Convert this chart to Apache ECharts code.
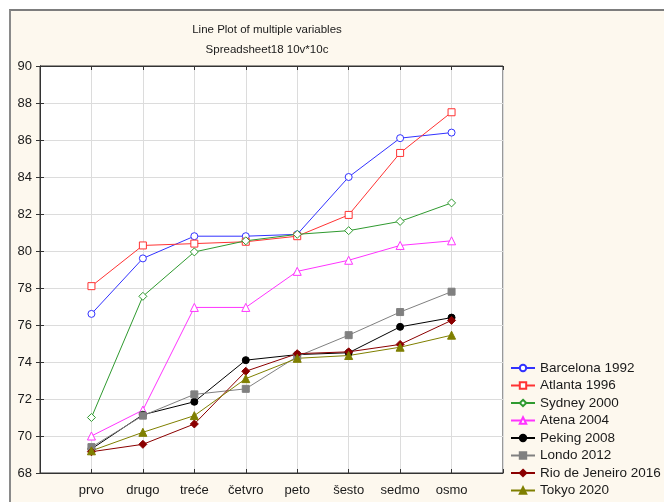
<!DOCTYPE html>
<html>
<head>
<meta charset="utf-8">
<script src="https://cdn.jsdelivr.net/npm/echarts@6/dist/echarts.min.js"></script>
<style>
  html, body { margin: 0; padding: 0; background: #ffffff; }
  #wrap { position: relative; width: 664px; height: 502px; overflow: hidden; background: #ffffff; }
  #frame { position: absolute; left: 9px; top: 9px; width: 664px; height: 502px;
           border-top: 2px solid #7d7d7d; border-left: 2px solid #8a8a8a; background: #fdf8ee; }
  #chart { position: absolute; left: 0; top: 0; width: 664px; height: 502px; }
</style>
</head>
<body>
<div id="wrap"><div id="frame"></div><div id="chart"></div></div>
<script>
const categories = ['prvo', 'drugo', 'treće', 'četvro', 'peto', 'šesto', 'sedmo', 'osmo'];
const yTicks = [68, 70, 72, 74, 76, 78, 80, 82, 84, 86, 88, 90];

const barcelona1992 = [76.6, 79.6, 80.8, 80.8, 80.9, 84.0, 86.1, 86.4];
const atlanta1996   = [78.1, 80.3, 80.4, 80.5, 80.8, 81.95, 85.3, 87.5];
const sydney2000    = [71.0, 77.55, 79.95, 80.55, 80.9, 81.1, 81.6, 82.6];
const atena2004     = [70.0, 71.4, 76.95, 76.95, 78.9, 79.5, 80.3, 80.55];
const peking2008    = [69.3, 71.15, 71.85, 74.1, 74.4, 74.5, 75.9, 76.4];
const londo2012     = [69.4, 71.1, 72.25, 72.55, 74.3, 75.45, 76.7, 77.8];
const rio2016       = [69.15, 69.55, 70.65, 73.5, 74.45, 74.55, 74.95, 76.25];
const tokyo2020     = [69.2, 70.2, 71.1, 73.1, 74.2, 74.35, 74.8, 75.45];

const seriesDefs = [
  { name: 'Barcelona 1992', data: barcelona1992, color: '#3232ff', symbol: 'circle', filled: false },
  { name: 'Atlanta 1996', data: atlanta1996, color: '#ff3333', symbol: 'rect', filled: false },
  { name: 'Sydney 2000', data: sydney2000, color: '#2f9a2f', symbol: 'diamond', filled: false },
  { name: 'Atena 2004', data: atena2004, color: '#ff33ff', symbol: 'triangle', filled: false },
  { name: 'Peking 2008', data: peking2008, color: '#000000', symbol: 'circle', filled: true },
  { name: 'Londo 2012', data: londo2012, color: '#808080', symbol: 'rect', filled: true },
  { name: 'Rio de Jeneiro 2016', data: rio2016, color: '#8b0000', symbol: 'diamond', filled: true },
  { name: 'Tokyo 2020', data: tokyo2020, color: '#7f7f00', symbol: 'triangle', filled: true }
];

const font = 'Arial, "Liberation Sans", sans-serif';
const chart = echarts.init(document.getElementById('chart'), null, { renderer: 'canvas' });

const series = seriesDefs.map(s => ({
  name: s.name,
  type: 'line',
  xAxisIndex: 0,
  yAxisIndex: 0,
  data: s.data.map((v, i) => [i + 1, v]),
  symbol: s.symbol,
  symbolSize: s.symbol === 'diamond' ? 8 : (s.symbol === 'triangle' ? 8 : 7),
  showSymbol: true,
  lineStyle: { color: s.color, width: 1 },
  itemStyle: { color: s.filled ? s.color : '#ffffff', borderColor: s.color, borderWidth: 1 },
  emphasis: { disabled: true },
  animation: false
}));

const option = {
  animation: false,
  backgroundColor: 'transparent',
  title: {
    text: 'Line Plot of multiple variables\nSpreadsheet18 10v*10c',
    left: 267,
    top: 20,
    padding: 0,
    textAlign: 'center',
    textStyle: { fontFamily: font, fontSize: 11.5, fontWeight: 'normal', color: '#1a1a1a', lineHeight: 20 }
  },
  legend: {
    orient: 'vertical',
    left: 510,
    top: 361,
    padding: 0,
    itemWidth: 24,
    itemHeight: 8,
    itemGap: 3.5,
    textStyle: { fontFamily: font, fontSize: 13.5, color: '#1a1a1a', lineHeight: 14 },
    data: seriesDefs.map(s => s.name)
  },
  grid: {
    left: 40, top: 66, right: 161, bottom: 29,
    show: true, backgroundColor: '#ffffff', borderColor: '#333333', borderWidth: 1,
    containLabel: false
  },
  xAxis: [{
    type: 'value', min: 0, max: 9, interval: 1,
    axisLine: { show: true, lineStyle: { color: '#333', width: 1 } },
    axisTick: { show: true, inside: true, length: 4, lineStyle: { color: '#333' } },
    axisLabel: {
      margin: 11, fontFamily: font, fontSize: 13, color: '#1a1a1a',
      formatter: v => (v >= 1 && v <= categories.length) ? categories[v - 1] : ''
    },
    splitLine: { show: true, lineStyle: { color: '#dcdcdc', width: 1 } }
  }, {
    type: 'value', min: 0, max: 9, interval: 1, position: 'top',
    axisLine: { show: true, lineStyle: { color: '#333', width: 1 } },
    axisTick: { show: true, inside: true, length: 4, lineStyle: { color: '#333' } },
    axisLabel: { show: false },
    splitLine: { show: false }
  }],
  yAxis: [{
    type: 'value', min: yTicks[0], max: yTicks[yTicks.length - 1], interval: 2,
    axisLine: { show: true, lineStyle: { color: '#333', width: 1 } },
    axisTick: { show: true, inside: true, length: 4, lineStyle: { color: '#333' } },
    axisLabel: { margin: 8, fontFamily: font, fontSize: 13, color: '#1a1a1a' },
    splitLine: { show: true, lineStyle: { color: '#dcdcdc', width: 1 } }
  }, {
    type: 'value', min: yTicks[0], max: yTicks[yTicks.length - 1], interval: 2, position: 'right',
    axisLine: { show: true, lineStyle: { color: '#333', width: 1 } },
    axisTick: { show: true, inside: true, length: 4, lineStyle: { color: '#333' } },
    axisLabel: { show: false },
    splitLine: { show: false }
  }],
  series: series
};
chart.setOption(option);
</script>
</body>
</html>
